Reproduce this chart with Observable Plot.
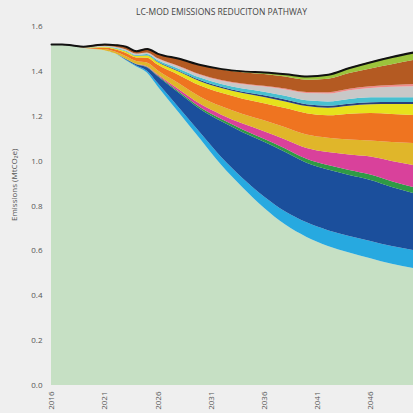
<!DOCTYPE html>
<html><head><meta charset="utf-8">
<script src="https://cdn.jsdelivr.net/npm/d3@7"></script>
<script src="https://cdn.jsdelivr.net/npm/@observablehq/plot@0.6"></script>
<style>
html,body{margin:0;padding:0;background:#efefef;}
#wrap{width:413px;height:413px;font-family:"Open Sans",sans-serif;}
#title{height:20px;line-height:24px;padding-left:30px;box-sizing:border-box;width:413px;text-align:center;font-size:8.5px;color:#444;white-space:nowrap;}
</style></head><body>
<div id="wrap"><div id="title">LC-MOD EMISSIONS REDUCITON PATHWAY</div><div id="chart"></div></div>
<script>
const years = [2016,2017,2018,2019,2020,2021,2022,2023,2024,2025,2026,2028,2030,2032,2034,2036,2038,2040,2042,2044,2046,2048,2050];
const base        = [1.52,1.52,1.513,1.503,1.497,1.492,1.478,1.448,1.42,1.393,1.332,1.215,1.097,0.98,0.88,0.79,0.715,0.66,0.62,0.59,0.565,0.54,0.521];
const lightBlue   = [0,0,0,0,0,0,0,0.003,0.004,0.008,0.015,0.022,0.028,0.035,0.042,0.05,0.058,0.065,0.07,0.074,0.077,0.079,0.081];
const darkBlue    = [0,0,0,0,0,0,0,0.003,0.006,0.015,0.03,0.065,0.105,0.16,0.205,0.244,0.265,0.265,0.27,0.272,0.272,0.264,0.254];
const darkGreen   = [0,0,0,0,0,0,0,0,0.001,0.002,0.003,0.006,0.008,0.01,0.012,0.014,0.016,0.018,0.02,0.022,0.024,0.025,0.026];
const magenta     = [0,0,0,0,0,0,0,0,0.001,0.003,0.005,0.01,0.015,0.02,0.026,0.033,0.04,0.048,0.058,0.069,0.08,0.09,0.098];
const gold        = [0,0,0,0,0.002,0.005,0.008,0.012,0.012,0.016,0.018,0.027,0.032,0.037,0.043,0.049,0.055,0.06,0.064,0.067,0.072,0.085,0.098];
const orange      = [0,0,0,0.002,0.004,0.007,0.01,0.015,0.016,0.022,0.025,0.037,0.05,0.06,0.068,0.076,0.085,0.095,0.1,0.115,0.122,0.125,0.125];
const yellow      = [0,0,0,0,0.002,0.003,0.004,0.006,0.006,0.009,0.011,0.015,0.019,0.022,0.025,0.028,0.03,0.032,0.034,0.036,0.039,0.044,0.049];
const navy        = [0,0,0,0,0,0,0,0,0.001,0.002,0.003,0.004,0.005,0.005,0.006,0.007,0.008,0.008,0.009,0.009,0.009,0.009,0.009];
const teal        = [0,0,0,0,0.002,0.002,0.003,0.004,0.004,0.005,0.006,0.009,0.011,0.012,0.014,0.016,0.017,0.018,0.019,0.021,0.022,0.022,0.022];
const grey        = [0,0,0,0.001,0.002,0.003,0.004,0.005,0.005,0.006,0.007,0.01,0.012,0.015,0.019,0.023,0.028,0.032,0.035,0.039,0.042,0.046,0.049];
const pink        = [0,0,0,0,0,0,0,0,0.001,0.001,0.002,0.002,0.003,0.003,0.004,0.004,0.005,0.005,0.006,0.006,0.007,0.008,0.009];
const brown       = [0,0,0.002,0.004,0.006,0.008,0.01,0.014,0.013,0.018,0.02,0.032,0.04,0.047,0.05,0.052,0.053,0.055,0.06,0.07,0.08,0.093,0.107];
const yellowGreen = [0,0,0,0,0,0,0,0,0,0,0.001,0.002,0.003,0.004,0.006,0.009,0.012,0.016,0.02,0.025,0.03,0.034,0.036];

const layerNames  = ["base","lightBlue","darkBlue","darkGreen","magenta","gold","orange","yellow","navy","teal","grey","pink","brown","yellowGreen"];
const layerValues = [base,lightBlue,darkBlue,darkGreen,magenta,gold,orange,yellow,navy,teal,grey,pink,brown,yellowGreen];
const layerColors = ["#c6e0c4","#27a9e0","#1b4f9c","#2f9a45","#d9419b","#e0b62a","#ef7420","#e6e21c","#2a3f7a","#48c0d0","#c8c8c8","#f08a8a","#b45a22","#9cc43c"];
const xTicks = [2016,2021,2026,2031,2036,2041,2046];
const yTicks = [0,0.2,0.4,0.6,0.8,1.0,1.2,1.4,1.6];
const yLabel = "Emissions (MtCO₂e)";

const data = [];
layerNames.forEach((name, i) => years.forEach((yr, j) => data.push({year: yr, layer: name, value: layerValues[i][j]})));

const chart = Plot.plot({
  width: 413, height: 393,
  marginTop: 6, marginBottom: 28, marginLeft: 51, marginRight: 0,
  style: {background: "transparent", fontFamily: "Open Sans, sans-serif", fontSize: "8px", color: "#555"},
  x: {domain: [2016, 2050]},
  y: {domain: [0, 1.6]},
  color: {domain: layerNames, range: layerColors},
  marks: [
    Plot.areaY(data, {x: "year", y: "value", fill: "layer", order: layerNames, curve: "monotone-x"}),
    Plot.lineY(data, Plot.groupX({y: "sum"}, {x: "year", y: "value", stroke: "#111", strokeWidth: 2, curve: "monotone-x"})),
    Plot.axisY({ticks: yTicks, tickFormat: d => d.toFixed(1), tickSize: 0, tickPadding: 9, label: null}),
    Plot.axisX({ticks: xTicks, tickFormat: d => String(d), tickRotate: -90, tickSize: 0, tickPadding: 6, label: null}),
    Plot.text([yLabel], {text: d => d, frameAnchor: "left", rotate: -90, dx: -37, dy: 15, fontSize: 8, fill: "#555"})
  ]
});
document.getElementById("chart").appendChild(chart);
</script>
</body></html>
